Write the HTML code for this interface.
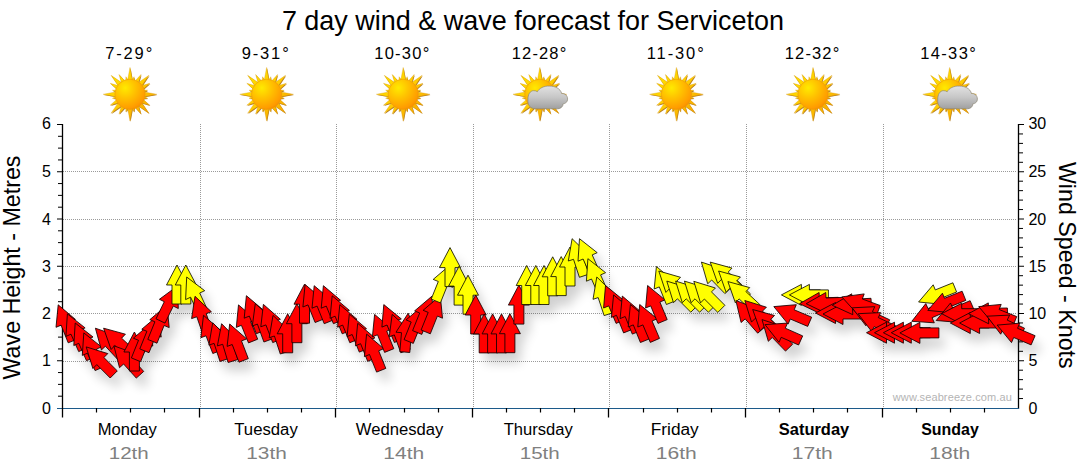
<!DOCTYPE html><html><head><meta charset="utf-8"><title>7 day wind &amp; wave forecast for Serviceton</title>
<style>html,body{margin:0;padding:0;background:#fff;}body{width:1080px;height:475px;overflow:hidden;position:relative;font-family:"Liberation Sans",sans-serif;}svg{position:absolute;left:0;top:0;}text{font-family:"Liberation Sans",sans-serif;}</style></head><body>
<svg width="1080" height="475" viewBox="0 0 1080 475">
<defs>
<radialGradient id="sg" cx="0.34" cy="0.29" r="0.8"><stop offset="0" stop-color="#ffea00"/><stop offset="0.4" stop-color="#ffc400"/><stop offset="0.85" stop-color="#ff9c00"/><stop offset="1" stop-color="#f58a00"/></radialGradient>
<linearGradient id="rg" gradientUnits="userSpaceOnUse" x1="-20" y1="-20" x2="20" y2="20"><stop offset="0" stop-color="#ffe000"/><stop offset="0.5" stop-color="#ffcc00"/><stop offset="1" stop-color="#f7a400"/></linearGradient>
<linearGradient id="cg" x1="0" y1="0" x2="0" y2="1"><stop offset="0" stop-color="#e2e2e2"/><stop offset="0.5" stop-color="#c6c6c6"/><stop offset="1" stop-color="#a0a0a0"/></linearGradient>
<filter id="sh" x="-50%" y="-50%" width="200%" height="200%"><feGaussianBlur stdDeviation="5.5"/></filter>
<filter id="sb" x="-20%" y="-20%" width="140%" height="140%"><feGaussianBlur stdDeviation="0.5"/></filter>
</defs>
<rect width="1080" height="475" fill="#fff"/>
<text id="title" x="532.9" y="29.5" font-size="27.4" text-anchor="middle" textLength="502" lengthAdjust="spacingAndGlyphs" fill="#000">7 day wind &amp; wave forecast for Serviceton</text>
<line x1="63" y1="361.5" x2="1016" y2="361.5" stroke="#9a9a9a" stroke-width="1" stroke-dasharray="1 1"/>
<line x1="63" y1="313.5" x2="1016" y2="313.5" stroke="#9a9a9a" stroke-width="1" stroke-dasharray="1 1"/>
<line x1="63" y1="266.5" x2="1016" y2="266.5" stroke="#9a9a9a" stroke-width="1" stroke-dasharray="1 1"/>
<line x1="63" y1="219.5" x2="1016" y2="219.5" stroke="#9a9a9a" stroke-width="1" stroke-dasharray="1 1"/>
<line x1="63" y1="171.5" x2="1016" y2="171.5" stroke="#9a9a9a" stroke-width="1" stroke-dasharray="1 1"/>
<line x1="200.5" y1="124" x2="200.5" y2="408" stroke="#9a9a9a" stroke-width="1" stroke-dasharray="1 1"/>
<line x1="336.5" y1="124" x2="336.5" y2="408" stroke="#9a9a9a" stroke-width="1" stroke-dasharray="1 1"/>
<line x1="473.5" y1="124" x2="473.5" y2="408" stroke="#9a9a9a" stroke-width="1" stroke-dasharray="1 1"/>
<line x1="609.5" y1="124" x2="609.5" y2="408" stroke="#9a9a9a" stroke-width="1" stroke-dasharray="1 1"/>
<line x1="746.5" y1="124" x2="746.5" y2="408" stroke="#9a9a9a" stroke-width="1" stroke-dasharray="1 1"/>
<line x1="883.5" y1="124" x2="883.5" y2="408" stroke="#9a9a9a" stroke-width="1" stroke-dasharray="1 1"/>
<line x1="62.5" y1="124" x2="62.5" y2="409" stroke="#000" stroke-width="1.3"/>
<line x1="1018.5" y1="124" x2="1018.5" y2="409" stroke="#000" stroke-width="1.3"/>
<line x1="57" y1="408.5" x2="1019" y2="408.5" stroke="#1c5a8a" stroke-width="1.1"/>
<text x="50.8" y="413.70" font-size="16" text-anchor="end" fill="#000">0</text>
<line x1="58" y1="396.19" x2="62.5" y2="396.19" stroke="#000" stroke-width="1"/>
<line x1="58" y1="384.38" x2="62.5" y2="384.38" stroke="#000" stroke-width="1"/>
<line x1="58" y1="372.56" x2="62.5" y2="372.56" stroke="#000" stroke-width="1"/>
<line x1="57" y1="360.75" x2="62.5" y2="360.75" stroke="#000" stroke-width="1"/>
<text x="50.8" y="366.35" font-size="16" text-anchor="end" fill="#000">1</text>
<line x1="58" y1="348.94" x2="62.5" y2="348.94" stroke="#000" stroke-width="1"/>
<line x1="58" y1="337.12" x2="62.5" y2="337.12" stroke="#000" stroke-width="1"/>
<line x1="58" y1="325.31" x2="62.5" y2="325.31" stroke="#000" stroke-width="1"/>
<line x1="57" y1="313.50" x2="62.5" y2="313.50" stroke="#000" stroke-width="1"/>
<text x="50.8" y="319.10" font-size="16" text-anchor="end" fill="#000">2</text>
<line x1="58" y1="301.69" x2="62.5" y2="301.69" stroke="#000" stroke-width="1"/>
<line x1="58" y1="289.88" x2="62.5" y2="289.88" stroke="#000" stroke-width="1"/>
<line x1="58" y1="278.06" x2="62.5" y2="278.06" stroke="#000" stroke-width="1"/>
<line x1="57" y1="266.25" x2="62.5" y2="266.25" stroke="#000" stroke-width="1"/>
<text x="50.8" y="271.85" font-size="16" text-anchor="end" fill="#000">3</text>
<line x1="58" y1="254.44" x2="62.5" y2="254.44" stroke="#000" stroke-width="1"/>
<line x1="58" y1="242.62" x2="62.5" y2="242.62" stroke="#000" stroke-width="1"/>
<line x1="58" y1="230.81" x2="62.5" y2="230.81" stroke="#000" stroke-width="1"/>
<line x1="57" y1="219.00" x2="62.5" y2="219.00" stroke="#000" stroke-width="1"/>
<text x="50.8" y="224.60" font-size="16" text-anchor="end" fill="#000">4</text>
<line x1="58" y1="207.19" x2="62.5" y2="207.19" stroke="#000" stroke-width="1"/>
<line x1="58" y1="195.38" x2="62.5" y2="195.38" stroke="#000" stroke-width="1"/>
<line x1="58" y1="183.56" x2="62.5" y2="183.56" stroke="#000" stroke-width="1"/>
<line x1="57" y1="171.75" x2="62.5" y2="171.75" stroke="#000" stroke-width="1"/>
<text x="50.8" y="177.35" font-size="16" text-anchor="end" fill="#000">5</text>
<line x1="58" y1="159.94" x2="62.5" y2="159.94" stroke="#000" stroke-width="1"/>
<line x1="58" y1="148.12" x2="62.5" y2="148.12" stroke="#000" stroke-width="1"/>
<line x1="58" y1="136.31" x2="62.5" y2="136.31" stroke="#000" stroke-width="1"/>
<line x1="57" y1="124.50" x2="62.5" y2="124.50" stroke="#000" stroke-width="1"/>
<text x="50.8" y="128.90" font-size="16" text-anchor="end" fill="#000">6</text>
<text x="1028.4" y="413.70" font-size="16" text-anchor="start" fill="#000">0</text>
<line x1="1018.5" y1="398.55" x2="1023" y2="398.55" stroke="#000" stroke-width="1"/>
<line x1="1018.5" y1="389.10" x2="1023" y2="389.10" stroke="#000" stroke-width="1"/>
<line x1="1018.5" y1="379.65" x2="1023" y2="379.65" stroke="#000" stroke-width="1"/>
<line x1="1018.5" y1="370.20" x2="1023" y2="370.20" stroke="#000" stroke-width="1"/>
<line x1="1018.5" y1="360.75" x2="1024" y2="360.75" stroke="#000" stroke-width="1"/>
<text x="1028.4" y="366.35" font-size="16" text-anchor="start" fill="#000">5</text>
<line x1="1018.5" y1="351.30" x2="1023" y2="351.30" stroke="#000" stroke-width="1"/>
<line x1="1018.5" y1="341.85" x2="1023" y2="341.85" stroke="#000" stroke-width="1"/>
<line x1="1018.5" y1="332.40" x2="1023" y2="332.40" stroke="#000" stroke-width="1"/>
<line x1="1018.5" y1="322.95" x2="1023" y2="322.95" stroke="#000" stroke-width="1"/>
<line x1="1018.5" y1="313.50" x2="1024" y2="313.50" stroke="#000" stroke-width="1"/>
<text x="1028.4" y="319.10" font-size="16" text-anchor="start" fill="#000">10</text>
<line x1="1018.5" y1="304.05" x2="1023" y2="304.05" stroke="#000" stroke-width="1"/>
<line x1="1018.5" y1="294.60" x2="1023" y2="294.60" stroke="#000" stroke-width="1"/>
<line x1="1018.5" y1="285.15" x2="1023" y2="285.15" stroke="#000" stroke-width="1"/>
<line x1="1018.5" y1="275.70" x2="1023" y2="275.70" stroke="#000" stroke-width="1"/>
<line x1="1018.5" y1="266.25" x2="1024" y2="266.25" stroke="#000" stroke-width="1"/>
<text x="1028.4" y="271.85" font-size="16" text-anchor="start" fill="#000">15</text>
<line x1="1018.5" y1="256.80" x2="1023" y2="256.80" stroke="#000" stroke-width="1"/>
<line x1="1018.5" y1="247.35" x2="1023" y2="247.35" stroke="#000" stroke-width="1"/>
<line x1="1018.5" y1="237.90" x2="1023" y2="237.90" stroke="#000" stroke-width="1"/>
<line x1="1018.5" y1="228.45" x2="1023" y2="228.45" stroke="#000" stroke-width="1"/>
<line x1="1018.5" y1="219.00" x2="1024" y2="219.00" stroke="#000" stroke-width="1"/>
<text x="1028.4" y="224.60" font-size="16" text-anchor="start" fill="#000">20</text>
<line x1="1018.5" y1="209.55" x2="1023" y2="209.55" stroke="#000" stroke-width="1"/>
<line x1="1018.5" y1="200.10" x2="1023" y2="200.10" stroke="#000" stroke-width="1"/>
<line x1="1018.5" y1="190.65" x2="1023" y2="190.65" stroke="#000" stroke-width="1"/>
<line x1="1018.5" y1="181.20" x2="1023" y2="181.20" stroke="#000" stroke-width="1"/>
<line x1="1018.5" y1="171.75" x2="1024" y2="171.75" stroke="#000" stroke-width="1"/>
<text x="1028.4" y="177.35" font-size="16" text-anchor="start" fill="#000">25</text>
<line x1="1018.5" y1="162.30" x2="1023" y2="162.30" stroke="#000" stroke-width="1"/>
<line x1="1018.5" y1="152.85" x2="1023" y2="152.85" stroke="#000" stroke-width="1"/>
<line x1="1018.5" y1="143.40" x2="1023" y2="143.40" stroke="#000" stroke-width="1"/>
<line x1="1018.5" y1="133.95" x2="1023" y2="133.95" stroke="#000" stroke-width="1"/>
<line x1="1018.5" y1="124.50" x2="1024" y2="124.50" stroke="#000" stroke-width="1"/>
<text x="1028.4" y="128.90" font-size="16" text-anchor="start" fill="#000">30</text>
<line x1="62.5" y1="408" x2="62.5" y2="417.5" stroke="#000" stroke-width="1.3"/>
<line x1="96.5" y1="408" x2="96.5" y2="412.5" stroke="#000" stroke-width="1.2"/>
<line x1="130.5" y1="408" x2="130.5" y2="412.5" stroke="#000" stroke-width="1.2"/>
<line x1="164.5" y1="408" x2="164.5" y2="412.5" stroke="#000" stroke-width="1.2"/>
<line x1="199.5" y1="408" x2="199.5" y2="417.5" stroke="#000" stroke-width="1.3"/>
<line x1="233.5" y1="408" x2="233.5" y2="412.5" stroke="#000" stroke-width="1.2"/>
<line x1="267.5" y1="408" x2="267.5" y2="412.5" stroke="#000" stroke-width="1.2"/>
<line x1="301.5" y1="408" x2="301.5" y2="412.5" stroke="#000" stroke-width="1.2"/>
<line x1="335.5" y1="408" x2="335.5" y2="417.5" stroke="#000" stroke-width="1.3"/>
<line x1="369.5" y1="408" x2="369.5" y2="412.5" stroke="#000" stroke-width="1.2"/>
<line x1="404.5" y1="408" x2="404.5" y2="412.5" stroke="#000" stroke-width="1.2"/>
<line x1="438.5" y1="408" x2="438.5" y2="412.5" stroke="#000" stroke-width="1.2"/>
<line x1="472.5" y1="408" x2="472.5" y2="417.5" stroke="#000" stroke-width="1.3"/>
<line x1="506.5" y1="408" x2="506.5" y2="412.5" stroke="#000" stroke-width="1.2"/>
<line x1="540.5" y1="408" x2="540.5" y2="412.5" stroke="#000" stroke-width="1.2"/>
<line x1="574.5" y1="408" x2="574.5" y2="412.5" stroke="#000" stroke-width="1.2"/>
<line x1="608.5" y1="408" x2="608.5" y2="417.5" stroke="#000" stroke-width="1.3"/>
<line x1="643.5" y1="408" x2="643.5" y2="412.5" stroke="#000" stroke-width="1.2"/>
<line x1="677.5" y1="408" x2="677.5" y2="412.5" stroke="#000" stroke-width="1.2"/>
<line x1="711.5" y1="408" x2="711.5" y2="412.5" stroke="#000" stroke-width="1.2"/>
<line x1="745.5" y1="408" x2="745.5" y2="417.5" stroke="#000" stroke-width="1.3"/>
<line x1="779.5" y1="408" x2="779.5" y2="412.5" stroke="#000" stroke-width="1.2"/>
<line x1="813.5" y1="408" x2="813.5" y2="412.5" stroke="#000" stroke-width="1.2"/>
<line x1="847.5" y1="408" x2="847.5" y2="412.5" stroke="#000" stroke-width="1.2"/>
<line x1="882.5" y1="408" x2="882.5" y2="417.5" stroke="#000" stroke-width="1.3"/>
<line x1="916.5" y1="408" x2="916.5" y2="412.5" stroke="#000" stroke-width="1.2"/>
<line x1="950.5" y1="408" x2="950.5" y2="412.5" stroke="#000" stroke-width="1.2"/>
<line x1="984.5" y1="408" x2="984.5" y2="412.5" stroke="#000" stroke-width="1.2"/>
<g filter="url(#sh)" opacity="0.18" transform="translate(6,10)">
<polygon points="58.2,304.8 75.4,319.4 70.3,321.5 77.4,339.1 68.2,342.8 61.1,325.2 56.0,327.3" fill="#000"/>
<polygon points="67.4,313.9 85.1,327.9 80.1,330.1 87.8,347.5 78.7,351.6 71.0,334.2 65.9,336.4" fill="#000"/>
<polygon points="75.2,323.0 93.0,337.0 88.0,339.2 95.7,356.6 86.5,360.7 78.8,343.3 73.8,345.5" fill="#000"/>
<polygon points="83.8,332.9 101.5,346.9 96.5,349.1 104.2,366.5 95.1,370.6 87.4,353.2 82.3,355.4" fill="#000"/>
<polygon points="86.2,346.9 107.8,353.6 103.9,357.5 117.3,370.9 110.2,378.0 96.8,364.6 92.9,368.5" fill="#000"/>
<polygon points="95.4,328.2 116.7,335.7 112.7,339.4 125.7,353.3 118.3,360.1 105.4,346.2 101.4,350.0" fill="#000"/>
<polygon points="103.6,328.2 125.4,334.2 121.6,338.2 135.5,351.1 128.7,358.5 114.8,345.5 111.1,349.5" fill="#000"/>
<polygon points="113.9,345.8 135.1,353.6 131.0,357.3 143.7,371.4 136.3,378.1 123.6,364.0 119.5,367.7" fill="#000"/>
<polygon points="134.4,332.0 144.9,352.0 139.4,352.0 139.4,371.0 129.4,371.0 129.4,352.0 123.9,352.0" fill="#000"/>
<polygon points="150.6,323.6 152.8,346.1 147.7,344.0 140.6,361.7 131.4,357.9 138.5,340.3 133.4,338.2" fill="#000"/>
<polygon points="159.0,314.6 161.2,337.1 156.1,335.0 149.0,352.7 139.8,348.9 146.9,331.3 141.8,329.2" fill="#000"/>
<polygon points="167.0,305.1 169.2,327.6 164.1,325.5 157.0,343.2 147.8,339.4 154.9,321.8 149.8,319.7" fill="#000"/>
<polygon points="177.6,285.9 178.3,308.5 173.3,306.1 165.0,323.1 156.0,318.8 164.3,301.7 159.4,299.3" fill="#000"/>
<polygon points="177.0,265.0 187.5,285.0 182.0,285.0 182.0,304.0 172.0,304.0 172.0,285.0 166.5,285.0" fill="#000"/>
<polygon points="185.8,265.0 196.3,285.0 190.8,285.0 190.8,304.0 180.8,304.0 180.8,285.0 175.3,285.0" fill="#000"/>
<polygon points="186.7,277.0 204.7,290.7 199.7,293.0 207.7,310.2 198.7,314.5 190.6,297.2 185.6,299.6" fill="#000"/>
<polygon points="195.0,296.3 211.4,311.8 206.2,313.6 212.4,331.5 203.0,334.8 196.8,316.8 191.6,318.6" fill="#000"/>
<polygon points="203.5,315.3 220.5,330.2 215.3,332.2 222.1,349.9 212.8,353.5 206.0,335.8 200.9,337.7" fill="#000"/>
<polygon points="212.7,322.8 228.9,338.6 223.6,340.3 229.5,358.3 220.0,361.4 214.1,343.4 208.9,345.1" fill="#000"/>
<polygon points="221.6,323.7 237.5,339.8 232.2,341.4 237.8,359.5 228.2,362.5 222.7,344.3 217.4,345.9" fill="#000"/>
<polygon points="229.7,324.0 246.7,338.9 241.5,340.9 248.3,358.6 239.0,362.2 232.2,344.5 227.1,346.4" fill="#000"/>
<polygon points="238.5,304.9 255.7,319.5 250.6,321.6 257.7,339.2 248.5,342.9 241.4,325.3 236.3,327.4" fill="#000"/>
<polygon points="246.4,295.7 263.6,310.3 258.5,312.4 265.6,330.0 256.4,333.7 249.3,316.1 244.2,318.2" fill="#000"/>
<polygon points="255.3,303.6 272.0,318.8 266.8,320.7 273.3,338.5 263.9,342.0 257.4,324.1 252.3,326.0" fill="#000"/>
<polygon points="263.4,304.4 280.4,319.3 275.2,321.3 282.0,339.0 272.7,342.6 265.9,324.9 260.8,326.8" fill="#000"/>
<polygon points="273.0,315.4 289.2,331.2 283.9,332.9 289.8,350.9 280.3,354.0 274.4,336.0 269.2,337.7" fill="#000"/>
<polygon points="287.7,313.8 298.2,333.8 292.7,333.8 292.7,352.8 282.7,352.8 282.7,333.8 277.2,333.8" fill="#000"/>
<polygon points="296.9,303.7 307.4,323.7 301.9,323.7 301.9,342.7 291.9,342.7 291.9,323.7 286.4,323.7" fill="#000"/>
<polygon points="304.5,284.2 315.0,304.2 309.5,304.2 309.5,323.2 299.5,323.2 299.5,304.2 294.0,304.2" fill="#000"/>
<polygon points="305.1,284.5 322.3,299.1 317.2,301.2 324.3,318.8 315.1,322.5 308.0,304.9 302.9,307.0" fill="#000"/>
<polygon points="314.2,285.7 331.4,300.3 326.3,302.4 333.4,320.0 324.2,323.7 317.1,306.1 312.0,308.2" fill="#000"/>
<polygon points="323.4,285.7 340.6,300.3 335.5,302.4 342.6,320.0 333.4,323.7 326.3,306.1 321.2,308.2" fill="#000"/>
<polygon points="332.2,295.8 349.4,310.4 344.3,312.5 351.4,330.1 342.2,333.8 335.1,316.2 330.0,318.3" fill="#000"/>
<polygon points="339.8,304.7 357.0,319.3 351.9,321.4 359.0,339.0 349.8,342.7 342.7,325.1 337.6,327.2" fill="#000"/>
<polygon points="349.3,314.1 366.5,328.7 361.4,330.8 368.5,348.4 359.3,352.1 352.2,334.5 347.1,336.6" fill="#000"/>
<polygon points="357.7,323.3 374.9,337.9 369.8,340.0 376.9,357.6 367.7,361.3 360.6,343.7 355.5,345.8" fill="#000"/>
<polygon points="366.6,334.1 383.8,348.7 378.7,350.8 385.8,368.4 376.6,372.1 369.5,354.5 364.4,356.6" fill="#000"/>
<polygon points="374.6,314.4 391.8,329.0 386.7,331.1 393.8,348.7 384.6,352.4 377.5,334.8 372.4,336.9" fill="#000"/>
<polygon points="383.8,304.6 401.3,318.9 396.2,321.1 403.6,338.5 394.4,342.5 387.0,325.0 381.9,327.1" fill="#000"/>
<polygon points="392.2,314.4 408.9,329.6 403.7,331.5 410.2,349.3 400.8,352.8 394.3,334.9 389.2,336.8" fill="#000"/>
<polygon points="408.2,313.2 416.9,334.0 411.4,333.6 409.8,352.5 399.8,351.6 401.5,332.7 396.0,332.2" fill="#000"/>
<polygon points="423.3,305.3 425.5,327.8 420.4,325.7 413.3,343.4 404.1,339.6 411.2,322.0 406.1,319.9" fill="#000"/>
<polygon points="431.8,296.3 434.0,318.8 428.9,316.7 421.8,334.4 412.6,330.6 419.7,313.0 414.6,310.9" fill="#000"/>
<polygon points="440.3,295.7 442.5,318.2 437.4,316.1 430.3,333.8 421.1,330.0 428.2,312.4 423.1,310.3" fill="#000"/>
<polygon points="450.4,264.8 452.6,287.3 447.5,285.2 440.4,302.9 431.2,299.1 438.3,281.5 433.2,279.4" fill="#000"/>
<polygon points="450.0,247.6 460.5,267.6 455.0,267.6 455.0,286.6 445.0,286.6 445.0,267.6 439.5,267.6" fill="#000"/>
<polygon points="459.1,266.1 469.6,286.1 464.1,286.1 464.1,305.1 454.1,305.1 454.1,286.1 448.6,286.1" fill="#000"/>
<polygon points="468.0,275.2 478.5,295.2 473.0,295.2 473.0,314.2 463.0,314.2 463.0,295.2 457.5,295.2" fill="#000"/>
<polygon points="475.7,295.0 486.2,315.0 480.7,315.0 480.7,334.0 470.7,334.0 470.7,315.0 465.2,315.0" fill="#000"/>
<polygon points="484.2,313.9 494.7,333.9 489.2,333.9 489.2,352.9 479.2,352.9 479.2,333.9 473.7,333.9" fill="#000"/>
<polygon points="492.6,313.9 503.1,333.9 497.6,333.9 497.6,352.9 487.6,352.9 487.6,333.9 482.1,333.9" fill="#000"/>
<polygon points="501.5,313.9 512.0,333.9 506.5,333.9 506.5,352.9 496.5,352.9 496.5,333.9 491.0,333.9" fill="#000"/>
<polygon points="509.9,313.7 520.4,333.7 514.9,333.7 514.9,352.7 504.9,352.7 504.9,333.7 499.4,333.7" fill="#000"/>
<polygon points="518.9,285.1 529.4,305.1 523.9,305.1 523.9,324.1 513.9,324.1 513.9,305.1 508.4,305.1" fill="#000"/>
<polygon points="526.7,265.5 537.2,285.5 531.7,285.5 531.7,304.5 521.7,304.5 521.7,285.5 516.2,285.5" fill="#000"/>
<polygon points="535.8,265.5 546.3,285.5 540.8,285.5 540.8,304.5 530.8,304.5 530.8,285.5 525.3,285.5" fill="#000"/>
<polygon points="544.0,265.5 554.5,285.5 549.0,285.5 549.0,304.5 539.0,304.5 539.0,285.5 533.5,285.5" fill="#000"/>
<polygon points="552.7,256.8 563.2,276.8 557.7,276.8 557.7,295.8 547.7,295.8 547.7,276.8 542.2,276.8" fill="#000"/>
<polygon points="561.2,256.6 571.7,276.6 566.2,276.6 566.2,295.6 556.2,295.6 556.2,276.6 550.7,276.6" fill="#000"/>
<polygon points="570.0,247.0 580.5,267.0 575.0,267.0 575.0,286.0 565.0,286.0 565.0,267.0 559.5,267.0" fill="#000"/>
<polygon points="572.1,238.7 588.3,254.5 583.0,256.2 588.9,274.2 579.4,277.3 573.5,259.3 568.3,261.0" fill="#000"/>
<polygon points="579.5,238.7 597.2,252.7 592.2,254.9 599.9,272.3 590.8,276.4 583.1,259.0 578.0,261.2" fill="#000"/>
<polygon points="587.9,258.7 605.6,272.7 600.6,274.9 608.3,292.3 599.2,296.4 591.5,279.0 586.4,281.2" fill="#000"/>
<polygon points="596.8,277.0 613.0,292.8 607.7,294.5 613.6,312.5 604.1,315.6 598.2,297.6 593.0,299.3" fill="#000"/>
<polygon points="605.5,285.5 623.0,299.8 617.9,302.0 625.3,319.4 616.1,323.4 608.7,305.9 603.6,308.0" fill="#000"/>
<polygon points="613.6,294.9 630.8,309.5 625.7,311.6 632.8,329.2 623.6,332.9 616.5,315.3 611.4,317.4" fill="#000"/>
<polygon points="622.3,296.1 639.5,310.7 634.4,312.8 641.5,330.4 632.3,334.1 625.2,316.5 620.1,318.6" fill="#000"/>
<polygon points="630.4,304.5 647.6,319.1 642.5,321.2 649.6,338.8 640.4,342.5 633.3,324.9 628.2,327.0" fill="#000"/>
<polygon points="639.7,304.5 657.2,318.8 652.1,321.0 659.5,338.4 650.3,342.4 642.9,324.9 637.8,327.0" fill="#000"/>
<polygon points="647.6,285.5 665.0,299.9 659.9,302.0 667.2,319.6 658.0,323.4 650.7,305.9 645.6,308.0" fill="#000"/>
<polygon points="656.4,266.5 673.6,281.1 668.5,283.2 675.6,300.8 666.4,304.5 659.3,286.9 654.2,289.0" fill="#000"/>
<polygon points="658.8,271.0 680.5,277.3 676.7,281.3 690.3,294.5 683.4,301.7 669.7,288.5 665.9,292.4" fill="#000"/>
<polygon points="666.8,281.1 688.4,287.8 684.5,291.7 697.9,305.1 690.8,312.2 677.4,298.8 673.5,302.7" fill="#000"/>
<polygon points="675.6,281.1 697.2,287.8 693.3,291.7 706.7,305.1 699.6,312.2 686.2,298.8 682.3,302.7" fill="#000"/>
<polygon points="684.4,281.1 706.0,287.8 702.1,291.7 715.5,305.1 708.4,312.2 695.0,298.8 691.1,302.7" fill="#000"/>
<polygon points="693.8,281.3 715.4,288.0 711.5,291.9 724.9,305.3 717.8,312.4 704.4,299.0 700.5,302.9" fill="#000"/>
<polygon points="701.4,262.1 722.8,269.2 718.9,273.0 732.1,286.7 724.9,293.6 711.7,280.0 707.7,283.8" fill="#000"/>
<polygon points="710.2,262.1 732.0,268.1 728.2,272.1 742.1,285.0 735.3,292.4 721.4,279.4 717.7,283.4" fill="#000"/>
<polygon points="718.6,271.0 740.4,277.0 736.6,281.0 750.5,293.9 743.7,301.3 729.8,288.3 726.1,292.3" fill="#000"/>
<polygon points="727.9,281.6 749.7,287.6 745.9,291.6 759.8,304.5 753.0,311.9 739.1,298.9 735.4,302.9" fill="#000"/>
<polygon points="735.9,300.5 756.9,308.7 752.8,312.3 765.3,326.7 757.7,333.2 745.2,318.9 741.1,322.5" fill="#000"/>
<polygon points="744.8,300.5 766.4,307.2 762.5,311.1 775.9,324.5 768.8,331.6 755.4,318.2 751.5,322.1" fill="#000"/>
<polygon points="752.7,309.5 774.5,315.5 770.7,319.5 784.6,332.4 777.8,339.8 763.9,326.8 760.2,330.8" fill="#000"/>
<polygon points="762.0,319.6 783.4,326.7 779.5,330.5 792.7,344.2 785.5,351.1 772.3,337.5 768.3,341.3" fill="#000"/>
<polygon points="765.0,324.6 787.5,323.1 785.3,328.2 802.7,335.9 798.6,345.0 781.2,337.3 779.0,342.3" fill="#000"/>
<polygon points="773.8,306.6 796.3,304.7 794.2,309.8 811.7,317.2 807.7,326.4 790.3,319.0 788.1,324.1" fill="#000"/>
<polygon points="781.4,294.9 801.4,284.4 801.4,289.9 820.4,289.9 820.4,299.9 801.4,299.9 801.4,305.4" fill="#000"/>
<polygon points="789.4,294.9 809.4,284.4 809.4,289.9 828.4,289.9 828.4,299.9 809.4,299.9 809.4,305.4" fill="#000"/>
<polygon points="799.5,303.7 819.1,292.5 819.3,298.0 838.3,297.3 838.7,307.3 819.7,308.0 819.9,313.5" fill="#000"/>
<polygon points="806.2,303.7 825.8,292.5 826.0,298.0 845.0,297.3 845.4,307.3 826.4,308.0 826.6,313.5" fill="#000"/>
<polygon points="815.5,313.0 835.5,302.5 835.5,308.0 854.5,308.0 854.5,318.0 835.5,318.0 835.5,323.5" fill="#000"/>
<polygon points="823.0,314.0 843.0,303.5 843.0,309.0 862.0,309.0 862.0,319.0 843.0,319.0 843.0,324.5" fill="#000"/>
<polygon points="832.3,305.3 851.7,293.8 852.0,299.3 871.0,298.3 871.5,308.3 852.5,309.2 852.8,314.7" fill="#000"/>
<polygon points="841.8,296.9 864.2,293.9 862.3,299.0 880.2,305.5 876.7,314.9 858.9,308.4 857.0,313.6" fill="#000"/>
<polygon points="852.2,307.8 874.8,306.7 872.4,311.7 889.7,319.8 885.4,328.8 868.2,320.8 865.9,325.8" fill="#000"/>
<polygon points="858.1,313.7 880.7,312.6 878.3,317.6 895.6,325.7 891.3,334.7 874.1,326.7 871.8,331.7" fill="#000"/>
<polygon points="866.5,332.7 886.5,322.2 886.5,327.7 905.5,327.7 905.5,337.7 886.5,337.7 886.5,343.2" fill="#000"/>
<polygon points="874.5,332.7 894.5,322.2 894.5,327.7 913.5,327.7 913.5,337.7 894.5,337.7 894.5,343.2" fill="#000"/>
<polygon points="883.4,332.7 903.4,322.2 903.4,327.7 922.4,327.7 922.4,337.7 903.4,337.7 903.4,343.2" fill="#000"/>
<polygon points="891.3,332.7 911.3,322.2 911.3,327.7 930.3,327.7 930.3,337.7 911.3,337.7 911.3,343.2" fill="#000"/>
<polygon points="899.9,332.9 919.9,322.4 919.9,327.9 938.9,327.9 938.9,337.9 919.9,337.9 919.9,343.4" fill="#000"/>
<polygon points="911.8,321.3 925.8,303.6 928.0,308.6 945.4,300.9 949.5,310.0 932.1,317.7 934.3,322.8" fill="#000"/>
<polygon points="918.6,302.0 933.2,284.8 935.3,289.9 952.9,282.8 956.6,292.0 939.0,299.1 941.1,304.2" fill="#000"/>
<polygon points="927.8,310.4 942.4,293.2 944.5,298.3 962.1,291.2 965.8,300.4 948.2,307.5 950.3,312.6" fill="#000"/>
<polygon points="936.2,320.5 950.5,303.0 952.7,308.1 970.1,300.7 974.1,309.9 956.6,317.3 958.7,322.4" fill="#000"/>
<polygon points="941.7,313.7 961.7,303.2 961.7,308.7 980.7,308.7 980.7,318.7 961.7,318.7 961.7,324.2" fill="#000"/>
<polygon points="950.3,323.0 970.3,312.5 970.3,318.0 989.3,318.0 989.3,328.0 970.3,328.0 970.3,333.5" fill="#000"/>
<polygon points="959.6,323.0 979.6,312.5 979.6,318.0 998.6,318.0 998.6,328.0 979.6,328.0 979.6,333.5" fill="#000"/>
<polygon points="968.5,313.7 988.3,302.9 988.4,308.4 1007.4,308.0 1007.6,318.0 988.6,318.4 988.7,323.8" fill="#000"/>
<polygon points="978.7,306.6 1001.2,304.4 999.1,309.5 1016.7,316.6 1013.0,325.8 995.4,318.7 993.3,323.8" fill="#000"/>
<polygon points="987.0,316.2 1009.6,315.1 1007.2,320.1 1024.5,328.2 1020.2,337.2 1003.0,329.2 1000.7,334.2" fill="#000"/>
<polygon points="997.2,325.1 1019.7,323.2 1017.6,328.3 1035.1,335.7 1031.1,344.9 1013.7,337.5 1011.5,342.6" fill="#000"/>
</g>
<g stroke="#5a1010" stroke-width="0.85" stroke-linejoin="miter">
<polygon points="58.2,304.8 75.4,319.4 70.3,321.5 77.4,339.1 68.2,342.8 61.1,325.2 56.0,327.3" fill="#ff0000" stroke="#100000"/>
<polygon points="67.4,313.9 85.1,327.9 80.1,330.1 87.8,347.5 78.7,351.6 71.0,334.2 65.9,336.4" fill="#ff0000" stroke="#100000"/>
<polygon points="75.2,323.0 93.0,337.0 88.0,339.2 95.7,356.6 86.5,360.7 78.8,343.3 73.8,345.5" fill="#ff0000" stroke="#100000"/>
<polygon points="83.8,332.9 101.5,346.9 96.5,349.1 104.2,366.5 95.1,370.6 87.4,353.2 82.3,355.4" fill="#ff0000" stroke="#100000"/>
<polygon points="86.2,346.9 107.8,353.6 103.9,357.5 117.3,370.9 110.2,378.0 96.8,364.6 92.9,368.5" fill="#ff0000" stroke="#100000"/>
<polygon points="95.4,328.2 116.7,335.7 112.7,339.4 125.7,353.3 118.3,360.1 105.4,346.2 101.4,350.0" fill="#ff0000" stroke="#100000"/>
<polygon points="103.6,328.2 125.4,334.2 121.6,338.2 135.5,351.1 128.7,358.5 114.8,345.5 111.1,349.5" fill="#ff0000" stroke="#100000"/>
<polygon points="113.9,345.8 135.1,353.6 131.0,357.3 143.7,371.4 136.3,378.1 123.6,364.0 119.5,367.7" fill="#ff0000" stroke="#100000"/>
<polygon points="134.4,332.0 144.9,352.0 139.4,352.0 139.4,371.0 129.4,371.0 129.4,352.0 123.9,352.0" fill="#ff0000" stroke="#100000"/>
<polygon points="150.6,323.6 152.8,346.1 147.7,344.0 140.6,361.7 131.4,357.9 138.5,340.3 133.4,338.2" fill="#ff0000" stroke="#100000"/>
<polygon points="159.0,314.6 161.2,337.1 156.1,335.0 149.0,352.7 139.8,348.9 146.9,331.3 141.8,329.2" fill="#ff0000" stroke="#100000"/>
<polygon points="167.0,305.1 169.2,327.6 164.1,325.5 157.0,343.2 147.8,339.4 154.9,321.8 149.8,319.7" fill="#ff0000" stroke="#100000"/>
<polygon points="177.6,285.9 178.3,308.5 173.3,306.1 165.0,323.1 156.0,318.8 164.3,301.7 159.4,299.3" fill="#ff0000" stroke="#100000"/>
<polygon points="177.0,265.0 187.5,285.0 182.0,285.0 182.0,304.0 172.0,304.0 172.0,285.0 166.5,285.0" fill="#ffff00" stroke="#101000"/>
<polygon points="185.8,265.0 196.3,285.0 190.8,285.0 190.8,304.0 180.8,304.0 180.8,285.0 175.3,285.0" fill="#ffff00" stroke="#101000"/>
<polygon points="186.7,277.0 204.7,290.7 199.7,293.0 207.7,310.2 198.7,314.5 190.6,297.2 185.6,299.6" fill="#ffff00" stroke="#101000"/>
<polygon points="195.0,296.3 211.4,311.8 206.2,313.6 212.4,331.5 203.0,334.8 196.8,316.8 191.6,318.6" fill="#ff0000" stroke="#100000"/>
<polygon points="203.5,315.3 220.5,330.2 215.3,332.2 222.1,349.9 212.8,353.5 206.0,335.8 200.9,337.7" fill="#ff0000" stroke="#100000"/>
<polygon points="212.7,322.8 228.9,338.6 223.6,340.3 229.5,358.3 220.0,361.4 214.1,343.4 208.9,345.1" fill="#ff0000" stroke="#100000"/>
<polygon points="221.6,323.7 237.5,339.8 232.2,341.4 237.8,359.5 228.2,362.5 222.7,344.3 217.4,345.9" fill="#ff0000" stroke="#100000"/>
<polygon points="229.7,324.0 246.7,338.9 241.5,340.9 248.3,358.6 239.0,362.2 232.2,344.5 227.1,346.4" fill="#ff0000" stroke="#100000"/>
<polygon points="238.5,304.9 255.7,319.5 250.6,321.6 257.7,339.2 248.5,342.9 241.4,325.3 236.3,327.4" fill="#ff0000" stroke="#100000"/>
<polygon points="246.4,295.7 263.6,310.3 258.5,312.4 265.6,330.0 256.4,333.7 249.3,316.1 244.2,318.2" fill="#ff0000" stroke="#100000"/>
<polygon points="255.3,303.6 272.0,318.8 266.8,320.7 273.3,338.5 263.9,342.0 257.4,324.1 252.3,326.0" fill="#ff0000" stroke="#100000"/>
<polygon points="263.4,304.4 280.4,319.3 275.2,321.3 282.0,339.0 272.7,342.6 265.9,324.9 260.8,326.8" fill="#ff0000" stroke="#100000"/>
<polygon points="273.0,315.4 289.2,331.2 283.9,332.9 289.8,350.9 280.3,354.0 274.4,336.0 269.2,337.7" fill="#ff0000" stroke="#100000"/>
<polygon points="287.7,313.8 298.2,333.8 292.7,333.8 292.7,352.8 282.7,352.8 282.7,333.8 277.2,333.8" fill="#ff0000" stroke="#100000"/>
<polygon points="296.9,303.7 307.4,323.7 301.9,323.7 301.9,342.7 291.9,342.7 291.9,323.7 286.4,323.7" fill="#ff0000" stroke="#100000"/>
<polygon points="304.5,284.2 315.0,304.2 309.5,304.2 309.5,323.2 299.5,323.2 299.5,304.2 294.0,304.2" fill="#ff0000" stroke="#100000"/>
<polygon points="305.1,284.5 322.3,299.1 317.2,301.2 324.3,318.8 315.1,322.5 308.0,304.9 302.9,307.0" fill="#ff0000" stroke="#100000"/>
<polygon points="314.2,285.7 331.4,300.3 326.3,302.4 333.4,320.0 324.2,323.7 317.1,306.1 312.0,308.2" fill="#ff0000" stroke="#100000"/>
<polygon points="323.4,285.7 340.6,300.3 335.5,302.4 342.6,320.0 333.4,323.7 326.3,306.1 321.2,308.2" fill="#ff0000" stroke="#100000"/>
<polygon points="332.2,295.8 349.4,310.4 344.3,312.5 351.4,330.1 342.2,333.8 335.1,316.2 330.0,318.3" fill="#ff0000" stroke="#100000"/>
<polygon points="339.8,304.7 357.0,319.3 351.9,321.4 359.0,339.0 349.8,342.7 342.7,325.1 337.6,327.2" fill="#ff0000" stroke="#100000"/>
<polygon points="349.3,314.1 366.5,328.7 361.4,330.8 368.5,348.4 359.3,352.1 352.2,334.5 347.1,336.6" fill="#ff0000" stroke="#100000"/>
<polygon points="357.7,323.3 374.9,337.9 369.8,340.0 376.9,357.6 367.7,361.3 360.6,343.7 355.5,345.8" fill="#ff0000" stroke="#100000"/>
<polygon points="366.6,334.1 383.8,348.7 378.7,350.8 385.8,368.4 376.6,372.1 369.5,354.5 364.4,356.6" fill="#ff0000" stroke="#100000"/>
<polygon points="374.6,314.4 391.8,329.0 386.7,331.1 393.8,348.7 384.6,352.4 377.5,334.8 372.4,336.9" fill="#ff0000" stroke="#100000"/>
<polygon points="383.8,304.6 401.3,318.9 396.2,321.1 403.6,338.5 394.4,342.5 387.0,325.0 381.9,327.1" fill="#ff0000" stroke="#100000"/>
<polygon points="392.2,314.4 408.9,329.6 403.7,331.5 410.2,349.3 400.8,352.8 394.3,334.9 389.2,336.8" fill="#ff0000" stroke="#100000"/>
<polygon points="408.2,313.2 416.9,334.0 411.4,333.6 409.8,352.5 399.8,351.6 401.5,332.7 396.0,332.2" fill="#ff0000" stroke="#100000"/>
<polygon points="423.3,305.3 425.5,327.8 420.4,325.7 413.3,343.4 404.1,339.6 411.2,322.0 406.1,319.9" fill="#ff0000" stroke="#100000"/>
<polygon points="431.8,296.3 434.0,318.8 428.9,316.7 421.8,334.4 412.6,330.6 419.7,313.0 414.6,310.9" fill="#ff0000" stroke="#100000"/>
<polygon points="440.3,295.7 442.5,318.2 437.4,316.1 430.3,333.8 421.1,330.0 428.2,312.4 423.1,310.3" fill="#ff0000" stroke="#100000"/>
<polygon points="450.4,264.8 452.6,287.3 447.5,285.2 440.4,302.9 431.2,299.1 438.3,281.5 433.2,279.4" fill="#ffff00" stroke="#101000"/>
<polygon points="450.0,247.6 460.5,267.6 455.0,267.6 455.0,286.6 445.0,286.6 445.0,267.6 439.5,267.6" fill="#ffff00" stroke="#101000"/>
<polygon points="459.1,266.1 469.6,286.1 464.1,286.1 464.1,305.1 454.1,305.1 454.1,286.1 448.6,286.1" fill="#ffff00" stroke="#101000"/>
<polygon points="468.0,275.2 478.5,295.2 473.0,295.2 473.0,314.2 463.0,314.2 463.0,295.2 457.5,295.2" fill="#ffff00" stroke="#101000"/>
<polygon points="475.7,295.0 486.2,315.0 480.7,315.0 480.7,334.0 470.7,334.0 470.7,315.0 465.2,315.0" fill="#ff0000" stroke="#100000"/>
<polygon points="484.2,313.9 494.7,333.9 489.2,333.9 489.2,352.9 479.2,352.9 479.2,333.9 473.7,333.9" fill="#ff0000" stroke="#100000"/>
<polygon points="492.6,313.9 503.1,333.9 497.6,333.9 497.6,352.9 487.6,352.9 487.6,333.9 482.1,333.9" fill="#ff0000" stroke="#100000"/>
<polygon points="501.5,313.9 512.0,333.9 506.5,333.9 506.5,352.9 496.5,352.9 496.5,333.9 491.0,333.9" fill="#ff0000" stroke="#100000"/>
<polygon points="509.9,313.7 520.4,333.7 514.9,333.7 514.9,352.7 504.9,352.7 504.9,333.7 499.4,333.7" fill="#ff0000" stroke="#100000"/>
<polygon points="518.9,285.1 529.4,305.1 523.9,305.1 523.9,324.1 513.9,324.1 513.9,305.1 508.4,305.1" fill="#ff0000" stroke="#100000"/>
<polygon points="526.7,265.5 537.2,285.5 531.7,285.5 531.7,304.5 521.7,304.5 521.7,285.5 516.2,285.5" fill="#ffff00" stroke="#101000"/>
<polygon points="535.8,265.5 546.3,285.5 540.8,285.5 540.8,304.5 530.8,304.5 530.8,285.5 525.3,285.5" fill="#ffff00" stroke="#101000"/>
<polygon points="544.0,265.5 554.5,285.5 549.0,285.5 549.0,304.5 539.0,304.5 539.0,285.5 533.5,285.5" fill="#ffff00" stroke="#101000"/>
<polygon points="552.7,256.8 563.2,276.8 557.7,276.8 557.7,295.8 547.7,295.8 547.7,276.8 542.2,276.8" fill="#ffff00" stroke="#101000"/>
<polygon points="561.2,256.6 571.7,276.6 566.2,276.6 566.2,295.6 556.2,295.6 556.2,276.6 550.7,276.6" fill="#ffff00" stroke="#101000"/>
<polygon points="570.0,247.0 580.5,267.0 575.0,267.0 575.0,286.0 565.0,286.0 565.0,267.0 559.5,267.0" fill="#ffff00" stroke="#101000"/>
<polygon points="572.1,238.7 588.3,254.5 583.0,256.2 588.9,274.2 579.4,277.3 573.5,259.3 568.3,261.0" fill="#ffff00" stroke="#101000"/>
<polygon points="579.5,238.7 597.2,252.7 592.2,254.9 599.9,272.3 590.8,276.4 583.1,259.0 578.0,261.2" fill="#ffff00" stroke="#101000"/>
<polygon points="587.9,258.7 605.6,272.7 600.6,274.9 608.3,292.3 599.2,296.4 591.5,279.0 586.4,281.2" fill="#ffff00" stroke="#101000"/>
<polygon points="596.8,277.0 613.0,292.8 607.7,294.5 613.6,312.5 604.1,315.6 598.2,297.6 593.0,299.3" fill="#ffff00" stroke="#101000"/>
<polygon points="605.5,285.5 623.0,299.8 617.9,302.0 625.3,319.4 616.1,323.4 608.7,305.9 603.6,308.0" fill="#ff0000" stroke="#100000"/>
<polygon points="613.6,294.9 630.8,309.5 625.7,311.6 632.8,329.2 623.6,332.9 616.5,315.3 611.4,317.4" fill="#ff0000" stroke="#100000"/>
<polygon points="622.3,296.1 639.5,310.7 634.4,312.8 641.5,330.4 632.3,334.1 625.2,316.5 620.1,318.6" fill="#ff0000" stroke="#100000"/>
<polygon points="630.4,304.5 647.6,319.1 642.5,321.2 649.6,338.8 640.4,342.5 633.3,324.9 628.2,327.0" fill="#ff0000" stroke="#100000"/>
<polygon points="639.7,304.5 657.2,318.8 652.1,321.0 659.5,338.4 650.3,342.4 642.9,324.9 637.8,327.0" fill="#ff0000" stroke="#100000"/>
<polygon points="647.6,285.5 665.0,299.9 659.9,302.0 667.2,319.6 658.0,323.4 650.7,305.9 645.6,308.0" fill="#ff0000" stroke="#100000"/>
<polygon points="656.4,266.5 673.6,281.1 668.5,283.2 675.6,300.8 666.4,304.5 659.3,286.9 654.2,289.0" fill="#ffff00" stroke="#101000"/>
<polygon points="658.8,271.0 680.5,277.3 676.7,281.3 690.3,294.5 683.4,301.7 669.7,288.5 665.9,292.4" fill="#ffff00" stroke="#101000"/>
<polygon points="666.8,281.1 688.4,287.8 684.5,291.7 697.9,305.1 690.8,312.2 677.4,298.8 673.5,302.7" fill="#ffff00" stroke="#101000"/>
<polygon points="675.6,281.1 697.2,287.8 693.3,291.7 706.7,305.1 699.6,312.2 686.2,298.8 682.3,302.7" fill="#ffff00" stroke="#101000"/>
<polygon points="684.4,281.1 706.0,287.8 702.1,291.7 715.5,305.1 708.4,312.2 695.0,298.8 691.1,302.7" fill="#ffff00" stroke="#101000"/>
<polygon points="693.8,281.3 715.4,288.0 711.5,291.9 724.9,305.3 717.8,312.4 704.4,299.0 700.5,302.9" fill="#ffff00" stroke="#101000"/>
<polygon points="701.4,262.1 722.8,269.2 718.9,273.0 732.1,286.7 724.9,293.6 711.7,280.0 707.7,283.8" fill="#ffff00" stroke="#101000"/>
<polygon points="710.2,262.1 732.0,268.1 728.2,272.1 742.1,285.0 735.3,292.4 721.4,279.4 717.7,283.4" fill="#ffff00" stroke="#101000"/>
<polygon points="718.6,271.0 740.4,277.0 736.6,281.0 750.5,293.9 743.7,301.3 729.8,288.3 726.1,292.3" fill="#ffff00" stroke="#101000"/>
<polygon points="727.9,281.6 749.7,287.6 745.9,291.6 759.8,304.5 753.0,311.9 739.1,298.9 735.4,302.9" fill="#ffff00" stroke="#101000"/>
<polygon points="735.9,300.5 756.9,308.7 752.8,312.3 765.3,326.7 757.7,333.2 745.2,318.9 741.1,322.5" fill="#ff0000" stroke="#100000"/>
<polygon points="744.8,300.5 766.4,307.2 762.5,311.1 775.9,324.5 768.8,331.6 755.4,318.2 751.5,322.1" fill="#ff0000" stroke="#100000"/>
<polygon points="752.7,309.5 774.5,315.5 770.7,319.5 784.6,332.4 777.8,339.8 763.9,326.8 760.2,330.8" fill="#ff0000" stroke="#100000"/>
<polygon points="762.0,319.6 783.4,326.7 779.5,330.5 792.7,344.2 785.5,351.1 772.3,337.5 768.3,341.3" fill="#ff0000" stroke="#100000"/>
<polygon points="765.0,324.6 787.5,323.1 785.3,328.2 802.7,335.9 798.6,345.0 781.2,337.3 779.0,342.3" fill="#ff0000" stroke="#100000"/>
<polygon points="773.8,306.6 796.3,304.7 794.2,309.8 811.7,317.2 807.7,326.4 790.3,319.0 788.1,324.1" fill="#ff0000" stroke="#100000"/>
<polygon points="781.4,294.9 801.4,284.4 801.4,289.9 820.4,289.9 820.4,299.9 801.4,299.9 801.4,305.4" fill="#ffff00" stroke="#101000"/>
<polygon points="789.4,294.9 809.4,284.4 809.4,289.9 828.4,289.9 828.4,299.9 809.4,299.9 809.4,305.4" fill="#ffff00" stroke="#101000"/>
<polygon points="799.5,303.7 819.1,292.5 819.3,298.0 838.3,297.3 838.7,307.3 819.7,308.0 819.9,313.5" fill="#ff0000" stroke="#100000"/>
<polygon points="806.2,303.7 825.8,292.5 826.0,298.0 845.0,297.3 845.4,307.3 826.4,308.0 826.6,313.5" fill="#ff0000" stroke="#100000"/>
<polygon points="815.5,313.0 835.5,302.5 835.5,308.0 854.5,308.0 854.5,318.0 835.5,318.0 835.5,323.5" fill="#ff0000" stroke="#100000"/>
<polygon points="823.0,314.0 843.0,303.5 843.0,309.0 862.0,309.0 862.0,319.0 843.0,319.0 843.0,324.5" fill="#ff0000" stroke="#100000"/>
<polygon points="832.3,305.3 851.7,293.8 852.0,299.3 871.0,298.3 871.5,308.3 852.5,309.2 852.8,314.7" fill="#ff0000" stroke="#100000"/>
<polygon points="841.8,296.9 864.2,293.9 862.3,299.0 880.2,305.5 876.7,314.9 858.9,308.4 857.0,313.6" fill="#ff0000" stroke="#100000"/>
<polygon points="852.2,307.8 874.8,306.7 872.4,311.7 889.7,319.8 885.4,328.8 868.2,320.8 865.9,325.8" fill="#ff0000" stroke="#100000"/>
<polygon points="858.1,313.7 880.7,312.6 878.3,317.6 895.6,325.7 891.3,334.7 874.1,326.7 871.8,331.7" fill="#ff0000" stroke="#100000"/>
<polygon points="866.5,332.7 886.5,322.2 886.5,327.7 905.5,327.7 905.5,337.7 886.5,337.7 886.5,343.2" fill="#ff0000" stroke="#100000"/>
<polygon points="874.5,332.7 894.5,322.2 894.5,327.7 913.5,327.7 913.5,337.7 894.5,337.7 894.5,343.2" fill="#ff0000" stroke="#100000"/>
<polygon points="883.4,332.7 903.4,322.2 903.4,327.7 922.4,327.7 922.4,337.7 903.4,337.7 903.4,343.2" fill="#ff0000" stroke="#100000"/>
<polygon points="891.3,332.7 911.3,322.2 911.3,327.7 930.3,327.7 930.3,337.7 911.3,337.7 911.3,343.2" fill="#ff0000" stroke="#100000"/>
<polygon points="899.9,332.9 919.9,322.4 919.9,327.9 938.9,327.9 938.9,337.9 919.9,337.9 919.9,343.4" fill="#ff0000" stroke="#100000"/>
<polygon points="911.8,321.3 925.8,303.6 928.0,308.6 945.4,300.9 949.5,310.0 932.1,317.7 934.3,322.8" fill="#ff0000" stroke="#100000"/>
<polygon points="918.6,302.0 933.2,284.8 935.3,289.9 952.9,282.8 956.6,292.0 939.0,299.1 941.1,304.2" fill="#ffff00" stroke="#101000"/>
<polygon points="927.8,310.4 942.4,293.2 944.5,298.3 962.1,291.2 965.8,300.4 948.2,307.5 950.3,312.6" fill="#ff0000" stroke="#100000"/>
<polygon points="936.2,320.5 950.5,303.0 952.7,308.1 970.1,300.7 974.1,309.9 956.6,317.3 958.7,322.4" fill="#ff0000" stroke="#100000"/>
<polygon points="941.7,313.7 961.7,303.2 961.7,308.7 980.7,308.7 980.7,318.7 961.7,318.7 961.7,324.2" fill="#ff0000" stroke="#100000"/>
<polygon points="950.3,323.0 970.3,312.5 970.3,318.0 989.3,318.0 989.3,328.0 970.3,328.0 970.3,333.5" fill="#ff0000" stroke="#100000"/>
<polygon points="959.6,323.0 979.6,312.5 979.6,318.0 998.6,318.0 998.6,328.0 979.6,328.0 979.6,333.5" fill="#ff0000" stroke="#100000"/>
<polygon points="968.5,313.7 988.3,302.9 988.4,308.4 1007.4,308.0 1007.6,318.0 988.6,318.4 988.7,323.8" fill="#ff0000" stroke="#100000"/>
<polygon points="978.7,306.6 1001.2,304.4 999.1,309.5 1016.7,316.6 1013.0,325.8 995.4,318.7 993.3,323.8" fill="#ff0000" stroke="#100000"/>
<polygon points="987.0,316.2 1009.6,315.1 1007.2,320.1 1024.5,328.2 1020.2,337.2 1003.0,329.2 1000.7,334.2" fill="#ff0000" stroke="#100000"/>
<polygon points="997.2,325.1 1019.7,323.2 1017.6,328.3 1035.1,335.7 1031.1,344.9 1013.7,337.5 1011.5,342.6" fill="#ff0000" stroke="#100000"/>
</g>
<text id="yl" transform="translate(20.2,267.5) rotate(-90)" font-size="23.25" text-anchor="middle" fill="#000">Wave Height - Metres</text>
<text id="yr" transform="translate(1059.2,265.3) rotate(90)" font-size="23.25" text-anchor="middle" fill="#000">Wind Speed - Knots</text>
<text x="127.25" y="434.8" font-size="16" text-anchor="middle" textLength="59.00" lengthAdjust="spacingAndGlyphs" fill="#000">Monday</text>
<text x="128.75" y="459" font-size="17.3" text-anchor="middle" textLength="40.00" lengthAdjust="spacingAndGlyphs" fill="#808080">12th</text>
<text x="128.75" y="59.1" font-size="16.5" text-anchor="middle" textLength="47.00" lengthAdjust="spacing" fill="#000">7-29°</text>
<text x="266.00" y="434.8" font-size="16" text-anchor="middle" textLength="63.50" lengthAdjust="spacingAndGlyphs" fill="#000">Tuesday</text>
<text x="266.50" y="459" font-size="17.3" text-anchor="middle" textLength="40.50" lengthAdjust="spacingAndGlyphs" fill="#808080">13th</text>
<text x="265.25" y="59.1" font-size="16.5" text-anchor="middle" textLength="47.00" lengthAdjust="spacing" fill="#000">9-31°</text>
<text x="399.50" y="434.8" font-size="16" text-anchor="middle" textLength="87.50" lengthAdjust="spacingAndGlyphs" fill="#000">Wednesday</text>
<text x="403.75" y="459" font-size="17.3" text-anchor="middle" textLength="41.00" lengthAdjust="spacingAndGlyphs" fill="#808080">14th</text>
<text x="401.75" y="59.1" font-size="16.5" text-anchor="middle" textLength="55.00" lengthAdjust="spacing" fill="#000">10-30°</text>
<text x="538.25" y="434.8" font-size="16" text-anchor="middle" textLength="69.00" lengthAdjust="spacingAndGlyphs" fill="#000">Thursday</text>
<text x="539.75" y="459" font-size="17.3" text-anchor="middle" textLength="40.00" lengthAdjust="spacingAndGlyphs" fill="#808080">15th</text>
<text x="539.00" y="59.1" font-size="16.5" text-anchor="middle" textLength="54.50" lengthAdjust="spacing" fill="#000">12-28°</text>
<text x="674.75" y="434.8" font-size="16" text-anchor="middle" textLength="48.00" lengthAdjust="spacingAndGlyphs" fill="#000">Friday</text>
<text x="676.25" y="459" font-size="17.3" text-anchor="middle" textLength="41.00" lengthAdjust="spacingAndGlyphs" fill="#808080">16th</text>
<text x="675.25" y="59.1" font-size="16.5" text-anchor="middle" textLength="57.00" lengthAdjust="spacing" fill="#000">11-30°</text>
<text x="814.00" y="434.8" font-size="16" text-anchor="middle" textLength="70.50" lengthAdjust="spacingAndGlyphs" fill="#000" font-weight="bold">Saturday</text>
<text x="812.25" y="459" font-size="17.3" text-anchor="middle" textLength="41.00" lengthAdjust="spacingAndGlyphs" fill="#808080">17th</text>
<text x="812.00" y="59.1" font-size="16.5" text-anchor="middle" textLength="54.50" lengthAdjust="spacing" fill="#000">12-32°</text>
<text x="950.00" y="434.8" font-size="16" text-anchor="middle" textLength="57.50" lengthAdjust="spacingAndGlyphs" fill="#000" font-weight="bold">Sunday</text>
<text x="949.75" y="459" font-size="17.3" text-anchor="middle" textLength="41.00" lengthAdjust="spacingAndGlyphs" fill="#808080">18th</text>
<text x="948.00" y="59.1" font-size="16.5" text-anchor="middle" textLength="55.50" lengthAdjust="spacing" fill="#000">14-33°</text>
<text x="1011.8" y="400.8" font-size="11" text-anchor="end" textLength="119" lengthAdjust="spacing" fill="#b4b4b4">www.seabreeze.com.au</text>
<g transform="translate(130.0,94.3)"><g transform="translate(0.6,0.7)" fill="#a86a08" opacity="0.9"><polygon points="0.00,-26.80 2.60,-13.00 -2.60,-13.00"/><polygon points="10.96,-19.77 8.23,-10.30 4.38,-12.44"/><polygon points="4.05,-17.54 4.39,-12.33 1.46,-13.00"/><polygon points="-4.05,-17.54 -1.46,-13.00 -4.39,-12.33"/><polygon points="18.95,-18.95 11.03,-7.35 7.35,-11.03"/><polygon points="19.77,-10.96 12.44,-4.38 10.30,-8.23"/><polygon points="26.80,-0.00 13.00,2.60 13.00,-2.60"/><polygon points="19.77,10.96 10.30,8.23 12.44,4.38"/><polygon points="17.54,4.05 12.33,4.39 13.00,1.46"/><polygon points="17.54,-4.05 13.00,-1.46 12.33,-4.39"/><polygon points="18.95,18.95 7.35,11.03 11.03,7.35"/><polygon points="10.96,19.77 4.38,12.44 8.23,10.30"/><polygon points="0.00,26.80 -2.60,13.00 2.60,13.00"/><polygon points="-10.96,19.77 -8.23,10.30 -4.38,12.44"/><polygon points="-4.05,17.54 -4.39,12.33 -1.46,13.00"/><polygon points="4.05,17.54 1.46,13.00 4.39,12.33"/><polygon points="-18.95,18.95 -11.03,7.35 -7.35,11.03"/><polygon points="-19.77,10.96 -12.44,4.38 -10.30,8.23"/><polygon points="-26.80,0.00 -13.00,-2.60 -13.00,2.60"/><polygon points="-19.77,-10.96 -10.30,-8.23 -12.44,-4.38"/><polygon points="-17.54,-4.05 -12.33,-4.39 -13.00,-1.46"/><polygon points="-17.54,4.05 -13.00,1.46 -12.33,4.39"/><polygon points="-18.95,-18.95 -7.35,-11.03 -11.03,-7.35"/><polygon points="-10.96,-19.77 -4.38,-12.44 -8.23,-10.30"/></g><g fill="url(#rg)" stroke="#d89a10" stroke-width="0.35"><polygon points="0.00,-26.80 2.60,-13.00 -2.60,-13.00"/><polygon points="10.96,-19.77 8.23,-10.30 4.38,-12.44"/><polygon points="4.05,-17.54 4.39,-12.33 1.46,-13.00"/><polygon points="-4.05,-17.54 -1.46,-13.00 -4.39,-12.33"/><polygon points="18.95,-18.95 11.03,-7.35 7.35,-11.03"/><polygon points="19.77,-10.96 12.44,-4.38 10.30,-8.23"/><polygon points="26.80,-0.00 13.00,2.60 13.00,-2.60"/><polygon points="19.77,10.96 10.30,8.23 12.44,4.38"/><polygon points="17.54,4.05 12.33,4.39 13.00,1.46"/><polygon points="17.54,-4.05 13.00,-1.46 12.33,-4.39"/><polygon points="18.95,18.95 7.35,11.03 11.03,7.35"/><polygon points="10.96,19.77 4.38,12.44 8.23,10.30"/><polygon points="0.00,26.80 -2.60,13.00 2.60,13.00"/><polygon points="-10.96,19.77 -8.23,10.30 -4.38,12.44"/><polygon points="-4.05,17.54 -4.39,12.33 -1.46,13.00"/><polygon points="4.05,17.54 1.46,13.00 4.39,12.33"/><polygon points="-18.95,18.95 -11.03,7.35 -7.35,11.03"/><polygon points="-19.77,10.96 -12.44,4.38 -10.30,8.23"/><polygon points="-26.80,0.00 -13.00,-2.60 -13.00,2.60"/><polygon points="-19.77,-10.96 -10.30,-8.23 -12.44,-4.38"/><polygon points="-17.54,-4.05 -12.33,-4.39 -13.00,-1.46"/><polygon points="-17.54,4.05 -13.00,1.46 -12.33,4.39"/><polygon points="-18.95,-18.95 -7.35,-11.03 -11.03,-7.35"/><polygon points="-10.96,-19.77 -4.38,-12.44 -8.23,-10.30"/></g><circle r="15.1" fill="url(#sg)" stroke="#e8940c" stroke-width="0.5"/></g>
<g transform="translate(266.6,94.3)"><g transform="translate(0.6,0.7)" fill="#a86a08" opacity="0.9"><polygon points="0.00,-26.80 2.60,-13.00 -2.60,-13.00"/><polygon points="10.96,-19.77 8.23,-10.30 4.38,-12.44"/><polygon points="4.05,-17.54 4.39,-12.33 1.46,-13.00"/><polygon points="-4.05,-17.54 -1.46,-13.00 -4.39,-12.33"/><polygon points="18.95,-18.95 11.03,-7.35 7.35,-11.03"/><polygon points="19.77,-10.96 12.44,-4.38 10.30,-8.23"/><polygon points="26.80,-0.00 13.00,2.60 13.00,-2.60"/><polygon points="19.77,10.96 10.30,8.23 12.44,4.38"/><polygon points="17.54,4.05 12.33,4.39 13.00,1.46"/><polygon points="17.54,-4.05 13.00,-1.46 12.33,-4.39"/><polygon points="18.95,18.95 7.35,11.03 11.03,7.35"/><polygon points="10.96,19.77 4.38,12.44 8.23,10.30"/><polygon points="0.00,26.80 -2.60,13.00 2.60,13.00"/><polygon points="-10.96,19.77 -8.23,10.30 -4.38,12.44"/><polygon points="-4.05,17.54 -4.39,12.33 -1.46,13.00"/><polygon points="4.05,17.54 1.46,13.00 4.39,12.33"/><polygon points="-18.95,18.95 -11.03,7.35 -7.35,11.03"/><polygon points="-19.77,10.96 -12.44,4.38 -10.30,8.23"/><polygon points="-26.80,0.00 -13.00,-2.60 -13.00,2.60"/><polygon points="-19.77,-10.96 -10.30,-8.23 -12.44,-4.38"/><polygon points="-17.54,-4.05 -12.33,-4.39 -13.00,-1.46"/><polygon points="-17.54,4.05 -13.00,1.46 -12.33,4.39"/><polygon points="-18.95,-18.95 -7.35,-11.03 -11.03,-7.35"/><polygon points="-10.96,-19.77 -4.38,-12.44 -8.23,-10.30"/></g><g fill="url(#rg)" stroke="#d89a10" stroke-width="0.35"><polygon points="0.00,-26.80 2.60,-13.00 -2.60,-13.00"/><polygon points="10.96,-19.77 8.23,-10.30 4.38,-12.44"/><polygon points="4.05,-17.54 4.39,-12.33 1.46,-13.00"/><polygon points="-4.05,-17.54 -1.46,-13.00 -4.39,-12.33"/><polygon points="18.95,-18.95 11.03,-7.35 7.35,-11.03"/><polygon points="19.77,-10.96 12.44,-4.38 10.30,-8.23"/><polygon points="26.80,-0.00 13.00,2.60 13.00,-2.60"/><polygon points="19.77,10.96 10.30,8.23 12.44,4.38"/><polygon points="17.54,4.05 12.33,4.39 13.00,1.46"/><polygon points="17.54,-4.05 13.00,-1.46 12.33,-4.39"/><polygon points="18.95,18.95 7.35,11.03 11.03,7.35"/><polygon points="10.96,19.77 4.38,12.44 8.23,10.30"/><polygon points="0.00,26.80 -2.60,13.00 2.60,13.00"/><polygon points="-10.96,19.77 -8.23,10.30 -4.38,12.44"/><polygon points="-4.05,17.54 -4.39,12.33 -1.46,13.00"/><polygon points="4.05,17.54 1.46,13.00 4.39,12.33"/><polygon points="-18.95,18.95 -11.03,7.35 -7.35,11.03"/><polygon points="-19.77,10.96 -12.44,4.38 -10.30,8.23"/><polygon points="-26.80,0.00 -13.00,-2.60 -13.00,2.60"/><polygon points="-19.77,-10.96 -10.30,-8.23 -12.44,-4.38"/><polygon points="-17.54,-4.05 -12.33,-4.39 -13.00,-1.46"/><polygon points="-17.54,4.05 -13.00,1.46 -12.33,4.39"/><polygon points="-18.95,-18.95 -7.35,-11.03 -11.03,-7.35"/><polygon points="-10.96,-19.77 -4.38,-12.44 -8.23,-10.30"/></g><circle r="15.1" fill="url(#sg)" stroke="#e8940c" stroke-width="0.5"/></g>
<g transform="translate(403.2,94.3)"><g transform="translate(0.6,0.7)" fill="#a86a08" opacity="0.9"><polygon points="0.00,-26.80 2.60,-13.00 -2.60,-13.00"/><polygon points="10.96,-19.77 8.23,-10.30 4.38,-12.44"/><polygon points="4.05,-17.54 4.39,-12.33 1.46,-13.00"/><polygon points="-4.05,-17.54 -1.46,-13.00 -4.39,-12.33"/><polygon points="18.95,-18.95 11.03,-7.35 7.35,-11.03"/><polygon points="19.77,-10.96 12.44,-4.38 10.30,-8.23"/><polygon points="26.80,-0.00 13.00,2.60 13.00,-2.60"/><polygon points="19.77,10.96 10.30,8.23 12.44,4.38"/><polygon points="17.54,4.05 12.33,4.39 13.00,1.46"/><polygon points="17.54,-4.05 13.00,-1.46 12.33,-4.39"/><polygon points="18.95,18.95 7.35,11.03 11.03,7.35"/><polygon points="10.96,19.77 4.38,12.44 8.23,10.30"/><polygon points="0.00,26.80 -2.60,13.00 2.60,13.00"/><polygon points="-10.96,19.77 -8.23,10.30 -4.38,12.44"/><polygon points="-4.05,17.54 -4.39,12.33 -1.46,13.00"/><polygon points="4.05,17.54 1.46,13.00 4.39,12.33"/><polygon points="-18.95,18.95 -11.03,7.35 -7.35,11.03"/><polygon points="-19.77,10.96 -12.44,4.38 -10.30,8.23"/><polygon points="-26.80,0.00 -13.00,-2.60 -13.00,2.60"/><polygon points="-19.77,-10.96 -10.30,-8.23 -12.44,-4.38"/><polygon points="-17.54,-4.05 -12.33,-4.39 -13.00,-1.46"/><polygon points="-17.54,4.05 -13.00,1.46 -12.33,4.39"/><polygon points="-18.95,-18.95 -7.35,-11.03 -11.03,-7.35"/><polygon points="-10.96,-19.77 -4.38,-12.44 -8.23,-10.30"/></g><g fill="url(#rg)" stroke="#d89a10" stroke-width="0.35"><polygon points="0.00,-26.80 2.60,-13.00 -2.60,-13.00"/><polygon points="10.96,-19.77 8.23,-10.30 4.38,-12.44"/><polygon points="4.05,-17.54 4.39,-12.33 1.46,-13.00"/><polygon points="-4.05,-17.54 -1.46,-13.00 -4.39,-12.33"/><polygon points="18.95,-18.95 11.03,-7.35 7.35,-11.03"/><polygon points="19.77,-10.96 12.44,-4.38 10.30,-8.23"/><polygon points="26.80,-0.00 13.00,2.60 13.00,-2.60"/><polygon points="19.77,10.96 10.30,8.23 12.44,4.38"/><polygon points="17.54,4.05 12.33,4.39 13.00,1.46"/><polygon points="17.54,-4.05 13.00,-1.46 12.33,-4.39"/><polygon points="18.95,18.95 7.35,11.03 11.03,7.35"/><polygon points="10.96,19.77 4.38,12.44 8.23,10.30"/><polygon points="0.00,26.80 -2.60,13.00 2.60,13.00"/><polygon points="-10.96,19.77 -8.23,10.30 -4.38,12.44"/><polygon points="-4.05,17.54 -4.39,12.33 -1.46,13.00"/><polygon points="4.05,17.54 1.46,13.00 4.39,12.33"/><polygon points="-18.95,18.95 -11.03,7.35 -7.35,11.03"/><polygon points="-19.77,10.96 -12.44,4.38 -10.30,8.23"/><polygon points="-26.80,0.00 -13.00,-2.60 -13.00,2.60"/><polygon points="-19.77,-10.96 -10.30,-8.23 -12.44,-4.38"/><polygon points="-17.54,-4.05 -12.33,-4.39 -13.00,-1.46"/><polygon points="-17.54,4.05 -13.00,1.46 -12.33,4.39"/><polygon points="-18.95,-18.95 -7.35,-11.03 -11.03,-7.35"/><polygon points="-10.96,-19.77 -4.38,-12.44 -8.23,-10.30"/></g><circle r="15.1" fill="url(#sg)" stroke="#e8940c" stroke-width="0.5"/></g>
<g transform="translate(539.8,94.3)"><g transform="translate(0.6,0.7)" fill="#a86a08" opacity="0.9"><polygon points="0.00,-26.80 2.60,-13.00 -2.60,-13.00"/><polygon points="10.96,-19.77 8.23,-10.30 4.38,-12.44"/><polygon points="4.05,-17.54 4.39,-12.33 1.46,-13.00"/><polygon points="-4.05,-17.54 -1.46,-13.00 -4.39,-12.33"/><polygon points="18.95,-18.95 11.03,-7.35 7.35,-11.03"/><polygon points="19.77,-10.96 12.44,-4.38 10.30,-8.23"/><polygon points="26.80,-0.00 13.00,2.60 13.00,-2.60"/><polygon points="19.77,10.96 10.30,8.23 12.44,4.38"/><polygon points="17.54,4.05 12.33,4.39 13.00,1.46"/><polygon points="17.54,-4.05 13.00,-1.46 12.33,-4.39"/><polygon points="18.95,18.95 7.35,11.03 11.03,7.35"/><polygon points="10.96,19.77 4.38,12.44 8.23,10.30"/><polygon points="0.00,26.80 -2.60,13.00 2.60,13.00"/><polygon points="-10.96,19.77 -8.23,10.30 -4.38,12.44"/><polygon points="-4.05,17.54 -4.39,12.33 -1.46,13.00"/><polygon points="4.05,17.54 1.46,13.00 4.39,12.33"/><polygon points="-18.95,18.95 -11.03,7.35 -7.35,11.03"/><polygon points="-19.77,10.96 -12.44,4.38 -10.30,8.23"/><polygon points="-26.80,0.00 -13.00,-2.60 -13.00,2.60"/><polygon points="-19.77,-10.96 -10.30,-8.23 -12.44,-4.38"/><polygon points="-17.54,-4.05 -12.33,-4.39 -13.00,-1.46"/><polygon points="-17.54,4.05 -13.00,1.46 -12.33,4.39"/><polygon points="-18.95,-18.95 -7.35,-11.03 -11.03,-7.35"/><polygon points="-10.96,-19.77 -4.38,-12.44 -8.23,-10.30"/></g><g fill="url(#rg)" stroke="#d89a10" stroke-width="0.35"><polygon points="0.00,-26.80 2.60,-13.00 -2.60,-13.00"/><polygon points="10.96,-19.77 8.23,-10.30 4.38,-12.44"/><polygon points="4.05,-17.54 4.39,-12.33 1.46,-13.00"/><polygon points="-4.05,-17.54 -1.46,-13.00 -4.39,-12.33"/><polygon points="18.95,-18.95 11.03,-7.35 7.35,-11.03"/><polygon points="19.77,-10.96 12.44,-4.38 10.30,-8.23"/><polygon points="26.80,-0.00 13.00,2.60 13.00,-2.60"/><polygon points="19.77,10.96 10.30,8.23 12.44,4.38"/><polygon points="17.54,4.05 12.33,4.39 13.00,1.46"/><polygon points="17.54,-4.05 13.00,-1.46 12.33,-4.39"/><polygon points="18.95,18.95 7.35,11.03 11.03,7.35"/><polygon points="10.96,19.77 4.38,12.44 8.23,10.30"/><polygon points="0.00,26.80 -2.60,13.00 2.60,13.00"/><polygon points="-10.96,19.77 -8.23,10.30 -4.38,12.44"/><polygon points="-4.05,17.54 -4.39,12.33 -1.46,13.00"/><polygon points="4.05,17.54 1.46,13.00 4.39,12.33"/><polygon points="-18.95,18.95 -11.03,7.35 -7.35,11.03"/><polygon points="-19.77,10.96 -12.44,4.38 -10.30,8.23"/><polygon points="-26.80,0.00 -13.00,-2.60 -13.00,2.60"/><polygon points="-19.77,-10.96 -10.30,-8.23 -12.44,-4.38"/><polygon points="-17.54,-4.05 -12.33,-4.39 -13.00,-1.46"/><polygon points="-17.54,4.05 -13.00,1.46 -12.33,4.39"/><polygon points="-18.95,-18.95 -7.35,-11.03 -11.03,-7.35"/><polygon points="-10.96,-19.77 -4.38,-12.44 -8.23,-10.30"/></g><circle r="15.1" fill="url(#sg)" stroke="#e8940c" stroke-width="0.5"/></g>
<g transform="translate(539.8,94.3)"><path d="M-4.5,14.5 C-9.5,14.5 -12.3,10.5 -11.9,5.5 C-12,0 -9.5,-3.5 -6.5,-3.6 C-5,-3.7 -3.5,-3.4 -2.4,-2.6 C-0.5,-6 4,-8.6 10,-8.2 C15,-8.2 20.5,-6 21.9,-0.8 C24.8,-1.2 27.9,1.3 27.8,4.8 C27.8,7.6 25.8,9.3 23.3,9.5 C23.3,12.2 21,14.5 18,14.5 Z" fill="url(#cg)" stroke="#8c8676" stroke-width="0.7"/></g>
<g transform="translate(676.4,94.3)"><g transform="translate(0.6,0.7)" fill="#a86a08" opacity="0.9"><polygon points="0.00,-26.80 2.60,-13.00 -2.60,-13.00"/><polygon points="10.96,-19.77 8.23,-10.30 4.38,-12.44"/><polygon points="4.05,-17.54 4.39,-12.33 1.46,-13.00"/><polygon points="-4.05,-17.54 -1.46,-13.00 -4.39,-12.33"/><polygon points="18.95,-18.95 11.03,-7.35 7.35,-11.03"/><polygon points="19.77,-10.96 12.44,-4.38 10.30,-8.23"/><polygon points="26.80,-0.00 13.00,2.60 13.00,-2.60"/><polygon points="19.77,10.96 10.30,8.23 12.44,4.38"/><polygon points="17.54,4.05 12.33,4.39 13.00,1.46"/><polygon points="17.54,-4.05 13.00,-1.46 12.33,-4.39"/><polygon points="18.95,18.95 7.35,11.03 11.03,7.35"/><polygon points="10.96,19.77 4.38,12.44 8.23,10.30"/><polygon points="0.00,26.80 -2.60,13.00 2.60,13.00"/><polygon points="-10.96,19.77 -8.23,10.30 -4.38,12.44"/><polygon points="-4.05,17.54 -4.39,12.33 -1.46,13.00"/><polygon points="4.05,17.54 1.46,13.00 4.39,12.33"/><polygon points="-18.95,18.95 -11.03,7.35 -7.35,11.03"/><polygon points="-19.77,10.96 -12.44,4.38 -10.30,8.23"/><polygon points="-26.80,0.00 -13.00,-2.60 -13.00,2.60"/><polygon points="-19.77,-10.96 -10.30,-8.23 -12.44,-4.38"/><polygon points="-17.54,-4.05 -12.33,-4.39 -13.00,-1.46"/><polygon points="-17.54,4.05 -13.00,1.46 -12.33,4.39"/><polygon points="-18.95,-18.95 -7.35,-11.03 -11.03,-7.35"/><polygon points="-10.96,-19.77 -4.38,-12.44 -8.23,-10.30"/></g><g fill="url(#rg)" stroke="#d89a10" stroke-width="0.35"><polygon points="0.00,-26.80 2.60,-13.00 -2.60,-13.00"/><polygon points="10.96,-19.77 8.23,-10.30 4.38,-12.44"/><polygon points="4.05,-17.54 4.39,-12.33 1.46,-13.00"/><polygon points="-4.05,-17.54 -1.46,-13.00 -4.39,-12.33"/><polygon points="18.95,-18.95 11.03,-7.35 7.35,-11.03"/><polygon points="19.77,-10.96 12.44,-4.38 10.30,-8.23"/><polygon points="26.80,-0.00 13.00,2.60 13.00,-2.60"/><polygon points="19.77,10.96 10.30,8.23 12.44,4.38"/><polygon points="17.54,4.05 12.33,4.39 13.00,1.46"/><polygon points="17.54,-4.05 13.00,-1.46 12.33,-4.39"/><polygon points="18.95,18.95 7.35,11.03 11.03,7.35"/><polygon points="10.96,19.77 4.38,12.44 8.23,10.30"/><polygon points="0.00,26.80 -2.60,13.00 2.60,13.00"/><polygon points="-10.96,19.77 -8.23,10.30 -4.38,12.44"/><polygon points="-4.05,17.54 -4.39,12.33 -1.46,13.00"/><polygon points="4.05,17.54 1.46,13.00 4.39,12.33"/><polygon points="-18.95,18.95 -11.03,7.35 -7.35,11.03"/><polygon points="-19.77,10.96 -12.44,4.38 -10.30,8.23"/><polygon points="-26.80,0.00 -13.00,-2.60 -13.00,2.60"/><polygon points="-19.77,-10.96 -10.30,-8.23 -12.44,-4.38"/><polygon points="-17.54,-4.05 -12.33,-4.39 -13.00,-1.46"/><polygon points="-17.54,4.05 -13.00,1.46 -12.33,4.39"/><polygon points="-18.95,-18.95 -7.35,-11.03 -11.03,-7.35"/><polygon points="-10.96,-19.77 -4.38,-12.44 -8.23,-10.30"/></g><circle r="15.1" fill="url(#sg)" stroke="#e8940c" stroke-width="0.5"/></g>
<g transform="translate(813.0,94.3)"><g transform="translate(0.6,0.7)" fill="#a86a08" opacity="0.9"><polygon points="0.00,-26.80 2.60,-13.00 -2.60,-13.00"/><polygon points="10.96,-19.77 8.23,-10.30 4.38,-12.44"/><polygon points="4.05,-17.54 4.39,-12.33 1.46,-13.00"/><polygon points="-4.05,-17.54 -1.46,-13.00 -4.39,-12.33"/><polygon points="18.95,-18.95 11.03,-7.35 7.35,-11.03"/><polygon points="19.77,-10.96 12.44,-4.38 10.30,-8.23"/><polygon points="26.80,-0.00 13.00,2.60 13.00,-2.60"/><polygon points="19.77,10.96 10.30,8.23 12.44,4.38"/><polygon points="17.54,4.05 12.33,4.39 13.00,1.46"/><polygon points="17.54,-4.05 13.00,-1.46 12.33,-4.39"/><polygon points="18.95,18.95 7.35,11.03 11.03,7.35"/><polygon points="10.96,19.77 4.38,12.44 8.23,10.30"/><polygon points="0.00,26.80 -2.60,13.00 2.60,13.00"/><polygon points="-10.96,19.77 -8.23,10.30 -4.38,12.44"/><polygon points="-4.05,17.54 -4.39,12.33 -1.46,13.00"/><polygon points="4.05,17.54 1.46,13.00 4.39,12.33"/><polygon points="-18.95,18.95 -11.03,7.35 -7.35,11.03"/><polygon points="-19.77,10.96 -12.44,4.38 -10.30,8.23"/><polygon points="-26.80,0.00 -13.00,-2.60 -13.00,2.60"/><polygon points="-19.77,-10.96 -10.30,-8.23 -12.44,-4.38"/><polygon points="-17.54,-4.05 -12.33,-4.39 -13.00,-1.46"/><polygon points="-17.54,4.05 -13.00,1.46 -12.33,4.39"/><polygon points="-18.95,-18.95 -7.35,-11.03 -11.03,-7.35"/><polygon points="-10.96,-19.77 -4.38,-12.44 -8.23,-10.30"/></g><g fill="url(#rg)" stroke="#d89a10" stroke-width="0.35"><polygon points="0.00,-26.80 2.60,-13.00 -2.60,-13.00"/><polygon points="10.96,-19.77 8.23,-10.30 4.38,-12.44"/><polygon points="4.05,-17.54 4.39,-12.33 1.46,-13.00"/><polygon points="-4.05,-17.54 -1.46,-13.00 -4.39,-12.33"/><polygon points="18.95,-18.95 11.03,-7.35 7.35,-11.03"/><polygon points="19.77,-10.96 12.44,-4.38 10.30,-8.23"/><polygon points="26.80,-0.00 13.00,2.60 13.00,-2.60"/><polygon points="19.77,10.96 10.30,8.23 12.44,4.38"/><polygon points="17.54,4.05 12.33,4.39 13.00,1.46"/><polygon points="17.54,-4.05 13.00,-1.46 12.33,-4.39"/><polygon points="18.95,18.95 7.35,11.03 11.03,7.35"/><polygon points="10.96,19.77 4.38,12.44 8.23,10.30"/><polygon points="0.00,26.80 -2.60,13.00 2.60,13.00"/><polygon points="-10.96,19.77 -8.23,10.30 -4.38,12.44"/><polygon points="-4.05,17.54 -4.39,12.33 -1.46,13.00"/><polygon points="4.05,17.54 1.46,13.00 4.39,12.33"/><polygon points="-18.95,18.95 -11.03,7.35 -7.35,11.03"/><polygon points="-19.77,10.96 -12.44,4.38 -10.30,8.23"/><polygon points="-26.80,0.00 -13.00,-2.60 -13.00,2.60"/><polygon points="-19.77,-10.96 -10.30,-8.23 -12.44,-4.38"/><polygon points="-17.54,-4.05 -12.33,-4.39 -13.00,-1.46"/><polygon points="-17.54,4.05 -13.00,1.46 -12.33,4.39"/><polygon points="-18.95,-18.95 -7.35,-11.03 -11.03,-7.35"/><polygon points="-10.96,-19.77 -4.38,-12.44 -8.23,-10.30"/></g><circle r="15.1" fill="url(#sg)" stroke="#e8940c" stroke-width="0.5"/></g>
<g transform="translate(949.6,94.3)"><g transform="translate(0.6,0.7)" fill="#a86a08" opacity="0.9"><polygon points="0.00,-26.80 2.60,-13.00 -2.60,-13.00"/><polygon points="10.96,-19.77 8.23,-10.30 4.38,-12.44"/><polygon points="4.05,-17.54 4.39,-12.33 1.46,-13.00"/><polygon points="-4.05,-17.54 -1.46,-13.00 -4.39,-12.33"/><polygon points="18.95,-18.95 11.03,-7.35 7.35,-11.03"/><polygon points="19.77,-10.96 12.44,-4.38 10.30,-8.23"/><polygon points="26.80,-0.00 13.00,2.60 13.00,-2.60"/><polygon points="19.77,10.96 10.30,8.23 12.44,4.38"/><polygon points="17.54,4.05 12.33,4.39 13.00,1.46"/><polygon points="17.54,-4.05 13.00,-1.46 12.33,-4.39"/><polygon points="18.95,18.95 7.35,11.03 11.03,7.35"/><polygon points="10.96,19.77 4.38,12.44 8.23,10.30"/><polygon points="0.00,26.80 -2.60,13.00 2.60,13.00"/><polygon points="-10.96,19.77 -8.23,10.30 -4.38,12.44"/><polygon points="-4.05,17.54 -4.39,12.33 -1.46,13.00"/><polygon points="4.05,17.54 1.46,13.00 4.39,12.33"/><polygon points="-18.95,18.95 -11.03,7.35 -7.35,11.03"/><polygon points="-19.77,10.96 -12.44,4.38 -10.30,8.23"/><polygon points="-26.80,0.00 -13.00,-2.60 -13.00,2.60"/><polygon points="-19.77,-10.96 -10.30,-8.23 -12.44,-4.38"/><polygon points="-17.54,-4.05 -12.33,-4.39 -13.00,-1.46"/><polygon points="-17.54,4.05 -13.00,1.46 -12.33,4.39"/><polygon points="-18.95,-18.95 -7.35,-11.03 -11.03,-7.35"/><polygon points="-10.96,-19.77 -4.38,-12.44 -8.23,-10.30"/></g><g fill="url(#rg)" stroke="#d89a10" stroke-width="0.35"><polygon points="0.00,-26.80 2.60,-13.00 -2.60,-13.00"/><polygon points="10.96,-19.77 8.23,-10.30 4.38,-12.44"/><polygon points="4.05,-17.54 4.39,-12.33 1.46,-13.00"/><polygon points="-4.05,-17.54 -1.46,-13.00 -4.39,-12.33"/><polygon points="18.95,-18.95 11.03,-7.35 7.35,-11.03"/><polygon points="19.77,-10.96 12.44,-4.38 10.30,-8.23"/><polygon points="26.80,-0.00 13.00,2.60 13.00,-2.60"/><polygon points="19.77,10.96 10.30,8.23 12.44,4.38"/><polygon points="17.54,4.05 12.33,4.39 13.00,1.46"/><polygon points="17.54,-4.05 13.00,-1.46 12.33,-4.39"/><polygon points="18.95,18.95 7.35,11.03 11.03,7.35"/><polygon points="10.96,19.77 4.38,12.44 8.23,10.30"/><polygon points="0.00,26.80 -2.60,13.00 2.60,13.00"/><polygon points="-10.96,19.77 -8.23,10.30 -4.38,12.44"/><polygon points="-4.05,17.54 -4.39,12.33 -1.46,13.00"/><polygon points="4.05,17.54 1.46,13.00 4.39,12.33"/><polygon points="-18.95,18.95 -11.03,7.35 -7.35,11.03"/><polygon points="-19.77,10.96 -12.44,4.38 -10.30,8.23"/><polygon points="-26.80,0.00 -13.00,-2.60 -13.00,2.60"/><polygon points="-19.77,-10.96 -10.30,-8.23 -12.44,-4.38"/><polygon points="-17.54,-4.05 -12.33,-4.39 -13.00,-1.46"/><polygon points="-17.54,4.05 -13.00,1.46 -12.33,4.39"/><polygon points="-18.95,-18.95 -7.35,-11.03 -11.03,-7.35"/><polygon points="-10.96,-19.77 -4.38,-12.44 -8.23,-10.30"/></g><circle r="15.1" fill="url(#sg)" stroke="#e8940c" stroke-width="0.5"/></g>
<g transform="translate(949.6,94.3)"><path d="M-4.5,14.5 C-9.5,14.5 -12.3,10.5 -11.9,5.5 C-12,0 -9.5,-3.5 -6.5,-3.6 C-5,-3.7 -3.5,-3.4 -2.4,-2.6 C-0.5,-6 4,-8.6 10,-8.2 C15,-8.2 20.5,-6 21.9,-0.8 C24.8,-1.2 27.9,1.3 27.8,4.8 C27.8,7.6 25.8,9.3 23.3,9.5 C23.3,12.2 21,14.5 18,14.5 Z" fill="url(#cg)" stroke="#8c8676" stroke-width="0.7"/></g>
</svg></body></html>
